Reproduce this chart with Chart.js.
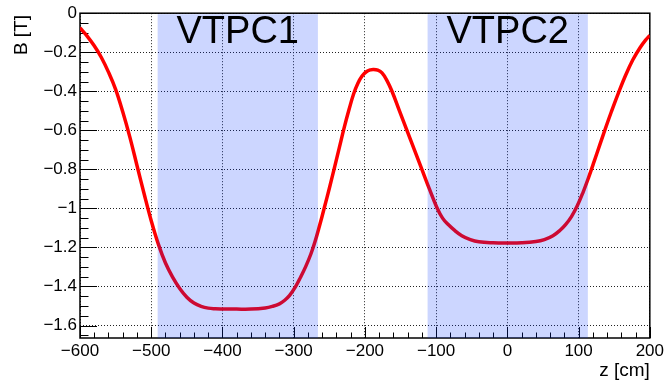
<!DOCTYPE html>
<html>
<head>
<meta charset="utf-8">
<script src="https://cdn.jsdelivr.net/npm/chart.js@4/dist/chart.umd.min.js"></script>
<style>
  body { margin: 0; background: #fff; }
  canvas { display: block; }
</style>
</head>
<body>
<canvas id="fieldChart" width="667" height="380"></canvas>
<script>
// magnetic field along the beam axis (z in cm, B in T)
const zPoints = [-600, -590, -580, -570, -560, -550, -540, -530, -520, -510, -500, -490, -480, -470,
  -460, -450, -440, -430, -420, -410, -400, -380, -360, -340, -330, -320, -313, -306, -298, -290,
  -283, -276, -270, -264, -257, -250, -243, -236, -229, -222, -216, -210, -204, -198, -192, -188,
  -182, -176, -169, -162, -151.5, -141, -130.5, -120, -109.5, -99, -91, -83, -74, -64, -52, -40,
  -20, 0, 20, 40, 52, 64, 74, 82, 90, 98, 106, 114, 122, 130, 138, 146, 156, 166, 176, 186, 194, 200];
const fieldB = [-0.075, -0.117, -0.167, -0.227, -0.302, -0.39, -0.505, -0.635, -0.78, -0.925, -1.063,
  -1.183, -1.28, -1.352, -1.41, -1.455, -1.485, -1.502, -1.511, -1.514, -1.515, -1.516, -1.516,
  -1.51, -1.502, -1.489, -1.472, -1.447, -1.405, -1.35, -1.297, -1.235, -1.17, -1.093, -0.997,
  -0.898, -0.795, -0.69, -0.585, -0.49, -0.415, -0.36, -0.322, -0.3, -0.29, -0.288, -0.292,
  -0.306, -0.345, -0.4, -0.5, -0.6, -0.7, -0.8, -0.9, -0.995, -1.05, -1.083, -1.113, -1.14, -1.16,
  -1.171, -1.176, -1.177, -1.176, -1.17, -1.16, -1.14, -1.112, -1.082, -1.042, -0.988, -0.92,
  -0.842, -0.758, -0.672, -0.587, -0.505, -0.408, -0.318, -0.24, -0.178, -0.138, -0.114];

// chamber extents
const chamberNames = ['VTPC1', 'VTPC2'];
const chamberStart = [-491, -112];
const chamberEnd = [-266, 113];

const xTicks = [-600, -500, -400, -300, -200, -100, 0, 100, 200];
const xTickLabels = ['\u2212600', '\u2212500', '\u2212400', '\u2212300', '\u2212200', '\u2212100', '0', '100', '200'];
const yTicks = [0, -0.2, -0.4, -0.6, -0.8, -1, -1.2, -1.4, -1.6];
const yTickLabels = ['0', '\u22120.2', '\u22120.4', '\u22120.6', '\u22120.8', '\u22121', '\u22121.2', '\u22121.4', '\u22121.6'];

const FONT = '"Liberation Sans", Arial, sans-serif';

const points = zPoints.map((z, i) => ({ x: z, y: fieldB[i] }));

// inward ticks + frame, ROOT style
const frameTicks = {
  id: 'frameTicks',
  beforeDatasetsDraw(chart) {
    const { ctx, chartArea: a, scales: { x, y } } = chart;
    ctx.save();
    ctx.strokeStyle = '#000';
    ctx.lineWidth = 1;
    ctx.beginPath();
    for (let v = 0; v >= y.min - 1e-9; v -= 0.05) {
      const major = Math.abs(Math.round(v / 0.2) * 0.2 - v) < 1e-6;
      const py = Math.round(y.getPixelForValue(v)) + 0.5;
      ctx.moveTo(a.left, py);
      ctx.lineTo(a.left + (major ? 17 : 8.5), py);
    }
    for (let v = x.min; v <= x.max + 1e-9; v += 20) {
      const major = v % 100 === 0;
      const px = Math.round(x.getPixelForValue(v)) + 0.5;
      ctx.moveTo(px, a.bottom);
      ctx.lineTo(px, a.bottom - (major ? 11 : 5.5));
    }
    ctx.stroke();
    ctx.lineWidth = 1.5;
    ctx.strokeRect(a.left, a.top, a.right - a.left, a.bottom - a.top);
    ctx.restore();
  },
  afterDatasetsDraw(chart) {
    const { ctx, chartArea: a, scales: { x } } = chart;
    ctx.save();
    chamberNames.forEach((name, i) => {
      const x0 = x.getPixelForValue(chamberStart[i]);
      const x1 = x.getPixelForValue(chamberEnd[i]);
      ctx.fillStyle = 'rgba(0, 50, 255, 0.2)';
      ctx.fillRect(x0, a.top + 1, x1 - x0, a.bottom - a.top - 1);
      ctx.fillStyle = '#000';
      ctx.font = '38px ' + FONT;
      ctx.textAlign = 'center';
      ctx.textBaseline = 'alphabetic';
      ctx.fillText(name, (x0 + x1) / 2, 43);
    });
    // axis titles
    ctx.font = '19px ' + FONT;
    ctx.textAlign = 'right';
    ctx.fillText('z [cm]', a.right, 376);
    ctx.translate(27, 15);
    ctx.rotate(-Math.PI / 2);
    ctx.fillText('B [T]', 0, 0);
    ctx.restore();
  }
};

new Chart(document.getElementById('fieldChart'), {
  type: 'line',
  data: {
    datasets: [{
      data: points,
      borderColor: '#ff0000',
      borderWidth: 3.5,
      pointRadius: 0,
      fill: false,
      tension: 0.4
    }]
  },
  options: {
    responsive: false,
    animation: false,
    devicePixelRatio: 1,
    layout: { padding: { top: 9.5, right: 15, left: 0, bottom: 0 } },
    plugins: { legend: { display: false }, tooltip: { enabled: false } },
    scales: {
      x: {
        type: 'linear',
        min: -600,
        max: 200,
        afterBuildTicks: s => { s.ticks = xTicks.map(v => ({ value: v })); },
        afterFit: s => { s.height = 42; },
        grid: { color: '#222', lineWidth: 1, drawTicks: false },
        border: { display: false, dash: [1, 2] },
        ticks: {
          padding: 3,
          maxRotation: 0,
          autoSkip: false,
          color: '#000',
          font: { family: FONT, size: 17 },
          callback: v => xTickLabels[xTicks.indexOf(v)]
        }
      },
      y: {
        type: 'linear',
        min: -1.664,
        max: 0,
        afterBuildTicks: s => { s.ticks = yTicks.map(v => ({ value: v })); },
        afterFit: s => { s.width = 80; },
        grid: { color: '#222', lineWidth: 1, drawTicks: false },
        border: { display: false, dash: [1, 2] },
        ticks: {
          padding: 3,
          autoSkip: false,
          color: '#000',
          font: { family: FONT, size: 17 },
          callback: v => yTickLabels[yTicks.indexOf(v)]
        }
      }
    }
  },
  plugins: [frameTicks]
});
</script>
</body>
</html>
